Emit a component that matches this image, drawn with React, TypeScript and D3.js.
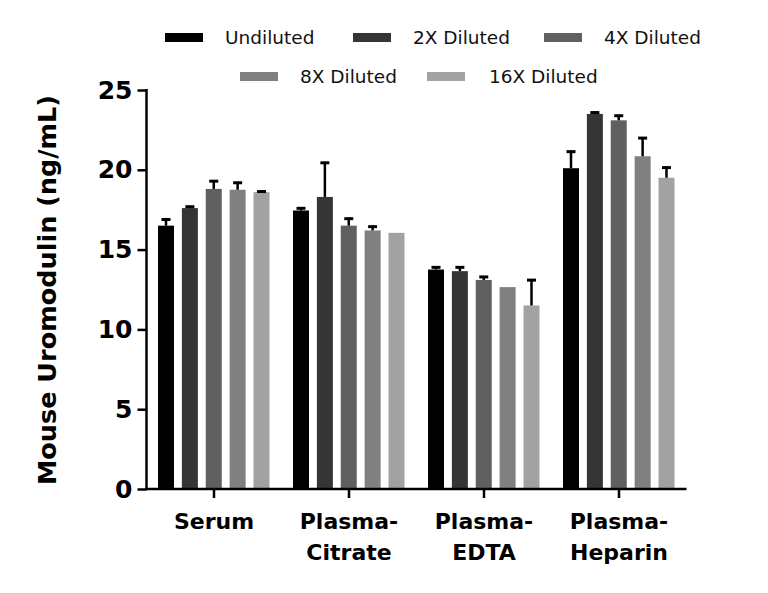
import { useEffect, useRef } from "react";
import * as d3 from "d3";

const categories = ["Serum", "Plasma-Citrate", "Plasma-EDTA", "Plasma-Heparin"];
const categoryLines = [["Serum"], ["Plasma-", "Citrate"], ["Plasma-", "EDTA"], ["Plasma-", "Heparin"]];
const seriesNames = ["Undiluted", "2X Diluted", "4X Diluted", "8X Diluted", "16X Diluted"];
const seriesColors = ["#000000", "#353535", "#606060", "#808080", "#a2a2a2"];

// mean per category, one array per dilution
const undiluted = [16.5, 17.45, 13.75, 20.1];
const diluted2x = [17.6, 18.3, 13.65, 23.5];
const diluted4x = [18.8, 16.5, 13.1, 23.1];
const diluted8x = [18.75, 16.2, 12.65, 20.85];
const diluted16x = [18.6, 16.05, 11.5, 19.5];

// upper error (SD) per category, 0 = no bar drawn
const err1x = [0.45, 0.2, 0.2, 1.1];
const err2x = [0.15, 2.2, 0.3, 0.15];
const err4x = [0.55, 0.5, 0.25, 0.35];
const err8x = [0.5, 0.3, 0, 1.2];
const err16x = [0.1, 0, 1.65, 0.7];

const yTicks = [0, 5, 10, 15, 20, 25];

const FONT = "'DejaVu Sans', Verdana, sans-serif";

export default function App() {
  const svgRef = useRef<SVGSVGElement>(null);

  useEffect(() => {
    if (!svgRef.current) return;
    const svg = d3.select(svgRef.current);
    svg.selectAll("*").remove();

    const values = [undiluted, diluted2x, diluted4x, diluted8x, diluted16x];
    const errors = [err1x, err2x, err4x, err8x, err16x];

    const x0 = d3.scaleBand().domain(categories).range([146.5, 686.5]).padding(0);
    const x1 = d3
      .scaleBand()
      .domain(seriesNames)
      .range([11.5, 123])
      .paddingInner(0.33)
      .paddingOuter(0);
    const y = d3.scaleLinear().domain([0, 25]).range([489, 90]);

    const g = svg.append("g");

    // bars
    categories.forEach((cat, ci) => {
      const grp = g.append("g").attr("transform", `translate(${x0(cat)},0)`);
      seriesNames.forEach((s, si) => {
        const v = values[si][ci];
        const bx = x1(s) ?? 0;
        const bw = x1.bandwidth();
        grp
          .append("rect")
          .attr("x", bx)
          .attr("y", y(v))
          .attr("width", bw)
          .attr("height", y(0) - y(v))
          .attr("fill", seriesColors[si]);
        const e = errors[si][ci];
        if (e > 0) {
          const cx = bx + bw / 2;
          grp
            .append("line")
            .attr("x1", cx)
            .attr("x2", cx)
            .attr("y1", y(v))
            .attr("y2", y(v + e))
            .attr("stroke", "#000")
            .attr("stroke-width", 2.5);
          grp
            .append("line")
            .attr("x1", cx - 4.5)
            .attr("x2", cx + 4.5)
            .attr("y1", y(v + e) + 1)
            .attr("y2", y(v + e) + 1)
            .attr("stroke", "#000")
            .attr("stroke-width", 3);
        }
      });
    });

    // y axis
    const yAxis = g
      .append("g")
      .attr("transform", "translate(146.5,0)")
      .call(d3.axisLeft(y).tickValues(yTicks).tickSize(9).tickPadding(5));
    yAxis.select(".domain").attr("stroke", "#000").attr("stroke-width", 2.5).attr("d", "M0,489V89");
    yAxis.selectAll(".tick line").attr("stroke", "#000").attr("stroke-width", 2.5);
    yAxis
      .selectAll(".tick text")
      .attr("fill", "#000")
      .attr("font-size", 25)
      .attr("font-weight", 700)
      .attr("font-family", FONT);

    // x axis
    const xAxis = g
      .append("g")
      .attr("transform", "translate(0,489)")
      .call(d3.axisBottom(x0).tickSize(9).tickFormat(() => ""));
    xAxis.select(".domain").attr("stroke", "#000").attr("stroke-width", 2.5).attr("d", "M145.5,0H686.5");
    xAxis.selectAll(".tick line").attr("stroke", "#000").attr("stroke-width", 2.5);

    categories.forEach((cat, ci) => {
      const cx = (x0(cat) ?? 0) + x0.bandwidth() / 2;
      categoryLines[ci].forEach((line, li) => {
        g.append("text")
          .attr("x", cx)
          .attr("y", 529 + li * 31)
          .attr("text-anchor", "middle")
          .attr("font-size", 22)
          .attr("font-weight", 700)
          .attr("font-family", FONT)
          .attr("fill", "#000")
          .text(line);
      });
    });

    // y axis title
    g.append("text")
      .attr("transform", "translate(56,290) rotate(-90)")
      .attr("text-anchor", "middle")
      .attr("font-size", 25.5)
      .attr("font-weight", 700)
      .attr("font-family", FONT)
      .attr("fill", "#000")
      .text("Mouse Uromodulin (ng/mL)");

    // legend
    const legendPos = [
      { sx: 165, tx: 225, y: 38 },
      { sx: 353, tx: 413, y: 38 },
      { sx: 544, tx: 604, y: 38 },
      { sx: 240, tx: 300, y: 77 },
      { sx: 427, tx: 489, y: 77 },
    ];
    const legend = g.append("g");
    seriesNames.forEach((s, si) => {
      const p = legendPos[si];
      legend
        .append("rect")
        .attr("x", p.sx)
        .attr("y", p.y - 5)
        .attr("width", 38)
        .attr("height", 9)
        .attr("fill", seriesColors[si]);
      legend
        .append("text")
        .attr("x", p.tx)
        .attr("y", p.y + 6)
        .attr("font-size", 18.5)
        .attr("font-family", FONT)
        .attr("fill", "#111")
        .text(s);
    });
  }, []);

  return (
    <div style={{ position: "absolute", left: 0, top: 0 }}>
      <svg ref={svgRef} width={768} height={593} style={{ display: "block", background: "#fff" }} />
    </div>
  );
}
